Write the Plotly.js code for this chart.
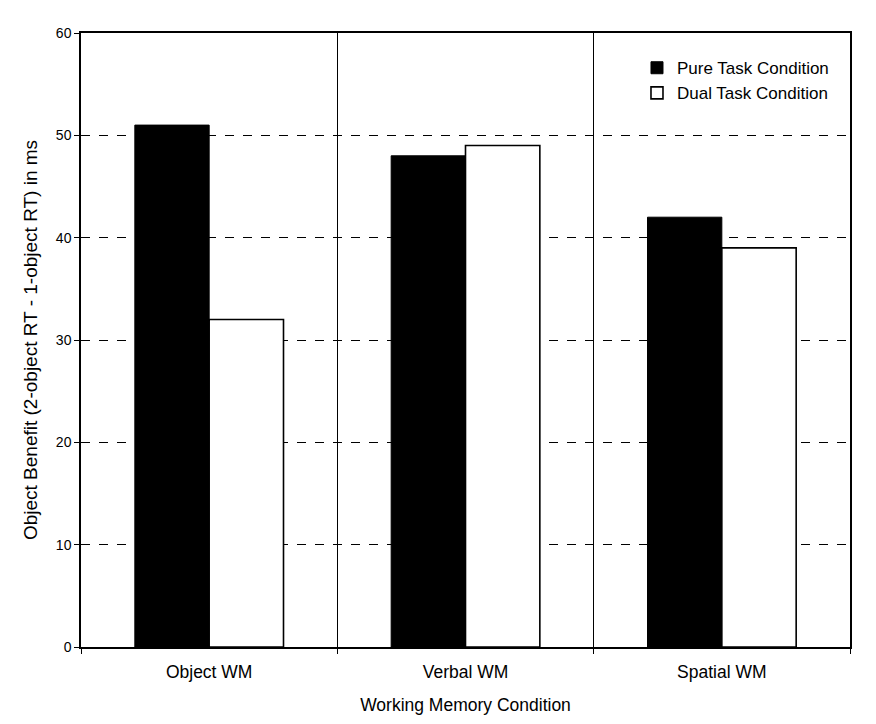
<!DOCTYPE html>
<html>
<head>
<meta charset="utf-8">
<script src="https://cdn.plot.ly/plotly-3.0.1.min.js"></script>
<style>
  body { margin: 0; background: #fff; }
  #chart { width: 876px; height: 724px; }
</style>
</head>
<body>
<div id="chart"></div>
<script>
'use strict';
/* Working memory conditions */
var conditions = ['Object WM', 'Verbal WM', 'Spatial WM'];

/* Object benefit in ms */
var pure_task = [51, 48, 42];
var dual_task = [32, 49, 39];

var y_ticks = [0, 10, 20, 30, 40, 50, 60];

var data = [
{
  x: conditions,
  y: pure_task,
  name: 'Pure Task Condition',
  type: 'bar',
  marker: {
    color: '#000000',
    line: { color: '#000000', width: 1 }
  }
},
{
  x: conditions,
  y: dual_task,
  name: 'Dual Task Condition',
  type: 'bar',
  marker: {
    color: '#ffffff',
    line: { color: '#000000', width: 1.6 }
  }
}];

var layout = {
  width: 876,
  height: 724,
  margin: { l: 81, r: 26, t: 33, b: 77 },
  paper_bgcolor: '#ffffff',
  plot_bgcolor: '#ffffff',
  font: { family: 'Liberation Sans, Arial, sans-serif', size: 16, color: '#000' },
  barmode: 'group',
  bargap: 0.42,
  bargroupgap: 0,
  showlegend: true,
  legend: {
    x: 0.723,
    y: 0.972,
    xanchor: 'left',
    yanchor: 'top',
    bgcolor: 'rgba(0,0,0,0)',
    font: { size: 17 },
    itemwidth: 30,
    tracegroupgap: 2
  },
  xaxis: {
    type: 'category',
    tickson: 'boundaries',
    ticks: 'outside',
    ticklen: 5,
    tickcolor: '#000',
    ticklabelstandoff: 8,
    showgrid: true,
    gridcolor: '#000',
    gridwidth: 1,
    showline: true,
    linecolor: '#000',
    linewidth: 1.5,
    mirror: true,
    tickfont: { size: 17.5 },
    title: { text: 'Working Memory Condition', font: { size: 17.5 }, standoff: 18 }
  },
  yaxis: {
    range: [0, 60],
    tickvals: y_ticks,
    ticks: 'outside',
    ticklen: 5,
    tickcolor: '#000',
    showgrid: true,
    gridcolor: '#000',
    gridwidth: 1,
    griddash: 'dash',
    zeroline: false,
    showline: true,
    linecolor: '#000',
    linewidth: 1.5,
    mirror: true,
    tickfont: { size: 14 },
    title: { text: 'Object Benefit (2-object RT - 1-object RT) in ms', font: { size: 19 }, standoff: 13 }
  }
};

Plotly.newPlot('chart', data, layout, { displayModeBar: false });
</script>
</body>
</html>
